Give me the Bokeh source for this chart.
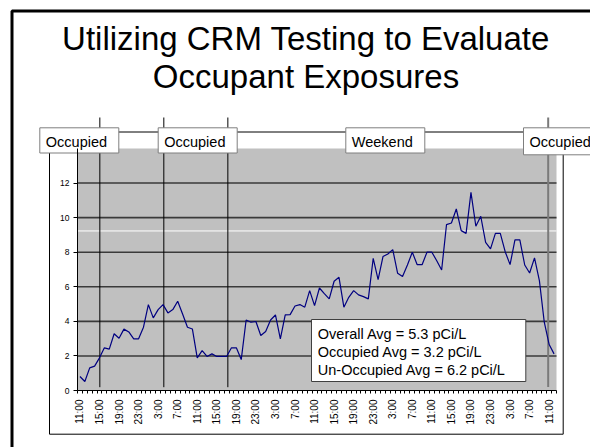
import math
from bokeh.plotting import figure
from bokeh.models import Range1d, FixedTicker, LinearAxis
from bokeh.core.properties import value
from bokeh.embed import file_html
from bokeh.resources import INLINE

# ---------------- data ----------------
radon = [
    0.81, 0.52, 1.31, 1.41, 1.89, 2.47, 2.39, 3.28, 3.02, 3.55,
    3.39, 2.99, 2.99, 3.66, 4.97, 4.20, 4.68, 4.97, 4.49, 4.68,
    5.16, 4.43, 3.66, 3.56, 1.89, 2.31, 1.97, 2.12, 1.97, 1.97,
    1.97, 2.47, 2.47, 1.79, 4.08, 3.95, 3.99, 3.18, 3.41, 4.08,
    4.37, 2.99, 4.37, 4.39, 4.89, 4.97, 4.82, 5.78, 4.91, 5.93,
    5.60, 5.30, 6.32, 6.55, 4.82, 5.39, 5.78, 5.53, 5.43, 5.30,
    7.65, 6.42, 7.75, 7.90, 8.15, 6.78, 6.59, 7.26, 8.00, 7.28,
    7.28, 8.00, 8.00, 7.51, 6.97, 9.60, 9.69, 10.50, 9.25, 9.09,
    11.46, 9.50, 10.08, 8.57, 8.19, 9.09, 9.09, 8.03, 7.28, 8.71,
    8.71, 7.26, 6.80, 7.67, 6.36, 3.95, 2.66, 2.12,
]
hours = list(range(len(radon)))
tick_positions = list(range(0, 97, 4))
tick_labels = ["11:00", "15:00", "19:00", "23:00", "3:00", "7:00",
               "11:00", "15:00", "19:00", "23:00", "3:00", "7:00",
               "11:00", "15:00", "19:00", "23:00", "3:00", "7:00",
               "11:00", "15:00", "19:00", "23:00", "3:00", "7:00",
               "11:00"]
y_ticks = [0, 2, 4, 6, 8, 10, 12]
y_max = 14
event_hours = [4.07, 17.16, 30.26]
end_event_hour = 95.8
reference_level = 9.23
period_labels = ["Occupied", "Occupied", "Weekend", "Occupied"]
summary_lines = ["Overall Avg = 5.3 pCi/L",
                 "Occupied Avg = 3.2 pCi/L",
                 "Un-Occupied Avg = 6.2 pCi/L"]
title_lines = ["Utilizing CRM Testing to Evaluate", "Occupant Exposures"]

FONT = "Liberation Sans"

# ---------------- layout (page pixels) ----------------
W, H = 590, 447
PA_L, PA_T, PA_R, PA_B = 77, 148, 556, 390   # grey plot area on the page
n = len(radon)
kx = (PA_R - PA_L) / n
ky = (PA_B - PA_T) / y_max
x_start = -0.5 - PA_L / kx
x_end = -0.5 + (W - PA_L) / kx
y_start = -(H - PA_B) / ky
y_end = PA_B / ky

TITLE_FS = 33
BOX_FS = 14.5
SHIFT = 0.31   # baseline correction (fraction of font size)

p = figure(width=W, height=H, x_range=Range1d(x_start, x_end),
           y_range=Range1d(y_start, y_end), output_backend="svg",
           toolbar_location=None, x_axis_location=None, y_axis_location=None,
           min_border=0, background_fill_color="white",
           border_fill_color="white", outline_line_color=None)
p.xgrid.visible = False
p.ygrid.visible = False
p.extra_x_ranges = {"px": Range1d(0, W)}
p.extra_y_ranges = {"py": Range1d(H, 0)}
PX = dict(x_range_name="px", y_range_name="py")

# slide border and chart border
p.quad(left=[11.5], right=[800], top=[10.5], bottom=[800], fill_color=None,
       line_color="black", line_width=3, **PX)
p.quad(left=[49], right=[562.7], top=[131.5], bottom=[433.7], fill_color=None,
       line_color="black", line_width=1, **PX)

# grey plotting area
p.quad(left=[-0.5], right=[n - 0.5], bottom=[0], top=[y_max],
       fill_color="#c0c0c0", line_color=None)

# grid lines
gy = y_ticks[1:]
p.segment(x0=[-0.5] * len(gy), x1=[n - 0.5] * len(gy), y0=gy, y1=gy,
          line_color="#3a3a3a", line_width=1.6)
p.segment(x0=[-0.5], x1=[n - 0.5], y0=[reference_level], y1=[reference_level],
          line_color="white", line_width=1)

# event lines
p.segment(x0=event_hours, x1=event_hours, y0=[117] * 3, y1=[386.7] * 3,
          line_color="black", line_width=1, y_range_name="py")
p.segment(x0=[end_event_hour], x1=[end_event_hour], y0=[117], y1=[386.5],
          line_color="#7a7a7a", line_width=2, y_range_name="py")

# data line
p.line(hours, radon, line_color="#000080", line_width=1.2)

# axes
xa = LinearAxis(fixed_location=0, bounds=(-0.5, n - 0.5))
xa.ticker = FixedTicker(ticks=tick_positions,
                        minor_ticks=[i - 0.5 for i in range(n + 1)])
xa.major_label_overrides = {t: l for t, l in zip(tick_positions, tick_labels)}
xa.major_label_orientation = math.pi / 2
xa.major_tick_line_color = None
xa.major_tick_out = 3
xa.major_tick_in = 0
xa.major_label_standoff = 6
xa.minor_tick_out = 3
xa.minor_tick_in = 0
xa.minor_tick_line_color = "black"
xa.axis_line_color = "black"
xa.major_label_text_font = FONT
xa.major_label_text_font_size = "10px"
xa.major_label_text_color = "black"
p.add_layout(xa, "below")

ya = LinearAxis(fixed_location=-0.5, bounds=(0, y_max))
ya.ticker = FixedTicker(ticks=y_ticks, minor_ticks=[])
ya.major_tick_out = 4
ya.major_tick_in = 0
ya.major_label_standoff = 4
ya.axis_line_color = "black"
ya.major_tick_line_color = "black"
ya.major_label_text_font = FONT
ya.major_label_text_font_size = "8.5px"
ya.major_label_text_color = "black"
p.add_layout(ya, "left")

# period label boxes
box_left = [39.3, 157.7, 345.3, 523.0]
box_bottom = [152.5, 152.5, 152.5, 154.3]
p.quad(left=box_left, right=[b + 79 for b in box_left], top=[127.3] * 4,
       bottom=box_bottom, fill_color="white", line_color="#7f7f7f",
       line_width=1, **PX)
p.text(x=[b + 6 for b in box_left], y=[146 - SHIFT * BOX_FS] * 4, text=period_labels,
       text_font=value(FONT), text_font_size=f"{BOX_FS}px", text_baseline="alphabetic",
       text_color="black", **PX)

# title
p.text(x=[305.5, 305.5], y=[48 - SHIFT * TITLE_FS, 86.5 - SHIFT * TITLE_FS],
       text=title_lines, text_font=value(FONT),
       text_font_size=f"{TITLE_FS}px", text_align="center", text_baseline="alphabetic",
       text_color="black", **PX)

# summary box
p.quad(left=[311], right=[525.3], top=[319], bottom=[381], fill_color="white",
       line_color="#404040", line_width=1, **PX)
p.text(x=[317.3] * 3, y=[v - SHIFT * BOX_FS for v in (337.5, 356, 374.3)],
       text=summary_lines, text_font=value(FONT), text_font_size=f"{BOX_FS}px",
       text_baseline="alphabetic", text_color="black", **PX)

open("out.html", "w").write(file_html(p, INLINE))
